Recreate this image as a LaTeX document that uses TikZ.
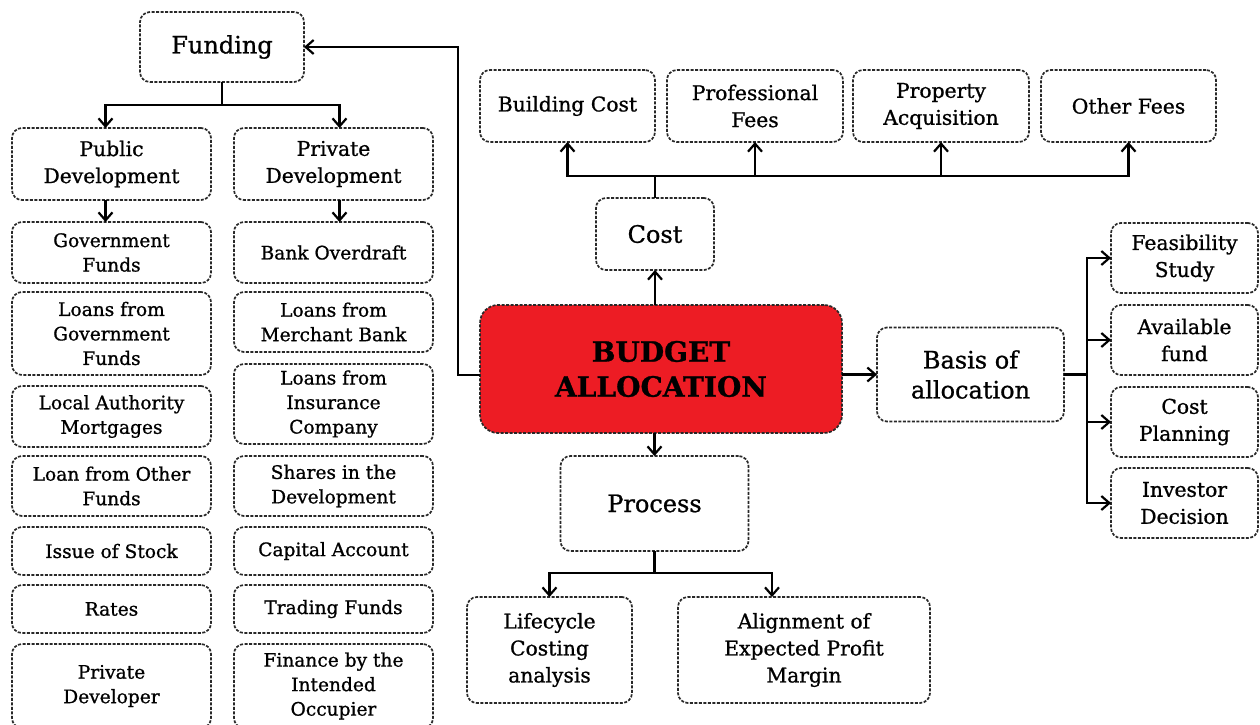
\documentclass[tikz,border=0pt]{standalone}
\usepackage{fontspec}
\setmainfont[FakeBold=0.9]{DejaVu Serif}
\usetikzlibrary{arrows.meta, positioning, calc}
\definecolor{budgetred}{RGB}{237,28,36}
\definecolor{boxline}{RGB}{40,40,40}

\begin{document}
\begin{tikzpicture}[x=1pt, y=-1pt,
  box/.style={rectangle, draw=boxline, line width=1.7pt, dash pattern=on 3pt off 1.5pt, rounded corners=10pt, align=center, inner sep=2pt, outer sep=0pt},
  item/.style={box, minimum width=199pt, font=\fontsize{18.6}{24.5}\selectfont},
  sub/.style={box, minimum height=72pt, font=\fontsize{20.3}{27}\selectfont},
  head/.style={box, font=\fontsize{24}{30}\selectfont},
  budget/.style={box, fill=budgetred, rounded corners=18pt, font=\bfseries\fontsize{28}{35}\selectfont},
  arrow/.style={-{Straight Barb[length=8pt, width=14pt, line width=2.2pt]}, line width=2.2pt},
  link/.style={line width=2.2pt}
]
\useasboundingbox (0,0) rectangle (1260,724);

% --- Zentrum ---
\node[budget, minimum width=362pt, minimum height=128pt] (budget) at (661,369) {BUDGET\\ALLOCATION};

% --- Funding links ---
\node[head, minimum width=164pt, minimum height=70pt] (funding) at (222,47) {Funding};
\node[sub, minimum width=199pt] (public)  at (111.5,164) {Public\\Development};
\node[sub, minimum width=199pt] (private) at (333.5,164) {Private\\Development};

\node[item, minimum height=61pt, below=22pt of public]    (govfunds)  {Government\\Funds};
\node[item, minimum height=83pt, below=9pt of govfunds]   (govloans)  {Loans from\\Government\\Funds};
\node[item, minimum height=61pt, below=11pt of govloans]  (mortgages) {Local Authority\\Mortgages};
\node[item, minimum height=60pt, below=9pt of mortgages]  (otherloan) {Loan from Other\\Funds};
\node[item, minimum height=48pt, below=11pt of otherloan] (stock)     {Issue of Stock};
\node[item, minimum height=48pt, below=10pt of stock]     (rates)     {Rates};
\node[item, minimum height=84pt, below=11pt of rates]     (developer) {Private\\Developer};

\node[item, minimum height=61pt, below=22pt of private]   (overdraft) {Bank Overdraft};
\node[item, minimum height=60pt, below=9pt of overdraft]  (merchant)  {Loans from\\Merchant Bank};
\node[item, minimum height=80pt, below=12pt of merchant]  (insurance) {Loans from\\Insurance\\Company};
\node[item, minimum height=60pt, below=12pt of insurance] (shares)    {Shares in the\\Development};
\node[item, minimum height=48pt, below=11pt of shares]    (capital)   {Capital Account};
\node[item, minimum height=48pt, below=10pt of capital]   (trading)   {Trading Funds};
\node[item, minimum height=84pt, below=11pt of trading]   (occupier)  {Finance by the\\Intended\\Occupier};

% --- Cost oben ---
\node[head, minimum width=118pt, minimum height=72pt] (cost) at (655,234) {Cost};
\node[sub, minimum width=175pt] (building)     at (567.5,106) {Building Cost};
\node[sub, minimum width=176pt] (professional) at (755,106)   {Professional\\Fees};
\node[sub, minimum width=176pt] (property)     at (941,106)   {Property\\Acquisition};
\node[sub, minimum width=175pt] (otherfees)    at (1128.5,106) {Other Fees};

% --- Basis rechts ---
\node[head, minimum width=187pt, minimum height=94pt] (basis) at (970.5,374.5) {Basis of\\allocation};
\node[sub, minimum width=147pt, minimum height=70pt] (feasibility) at (1184.5,258) {Feasibility\\Study};
\node[sub, minimum width=147pt, minimum height=70pt] (available)   at (1184.5,340) {Available\\fund};
\node[sub, minimum width=147pt, minimum height=70pt] (planning)    at (1184.5,422) {Cost\\Planning};
\node[sub, minimum width=147pt, minimum height=70pt] (investor)    at (1184.5,503) {Investor\\Decision};

% --- Process unten ---
\node[head, minimum width=188pt, minimum height=95pt] (process) at (654.5,503.5) {Process};
\node[sub, minimum width=165pt, minimum height=106pt] (lifecycle) at (549.5,650) {Lifecycle\\Costing\\analysis};
\node[sub, minimum width=252pt, minimum height=106pt] (alignment) at (804,650) {Alignment of\\Expected Profit\\Margin};

% Verbindungen
\draw[arrow] ([yshift=-6pt]budget.west) -- ++(-22,0) |- (funding.east);
\draw[link] (funding.south) -- ++(0,23) coordinate (fjoin);
\draw[arrow] (fjoin) -| ([xshift=-6pt]public.north);
\draw[arrow] (fjoin) -| ([xshift=6pt]private.north);
\draw[arrow] ([xshift=-6pt]public.south) -- ([xshift=-6pt]govfunds.north);
\draw[arrow] ([xshift=6pt]private.south) -- ([xshift=6pt]overdraft.north);

\draw[arrow] (budget.north -| cost.south) -- (cost.south);
\draw[link] (cost.north) -- ++(0,-22) coordinate (cjoin);
\draw[arrow] (cjoin) -| (building.south);
\draw[arrow] (cjoin) -| (professional.south);
\draw[arrow] (cjoin) -| (property.south);
\draw[arrow] (cjoin) -| (otherfees.south);

\draw[arrow] (budget.east |- basis.west) -- (basis.west);
\draw[link] (basis.east) -- ++(23,0) coordinate (bjoin);
\draw[arrow] (bjoin) |- (feasibility.west);
\draw[arrow] (bjoin) |- (available.west);
\draw[arrow] (bjoin) |- (planning.west);
\draw[arrow] (bjoin) |- (investor.west);

\draw[arrow] (budget.south -| process.north) -- (process.north);
\draw[link] (process.south) -- ++(0,22) coordinate (pjoin);
\draw[arrow] (pjoin) -| (lifecycle.north);
\draw[arrow] (pjoin) -| ([xshift=-32pt]alignment.north);
\end{tikzpicture}
\end{document}
